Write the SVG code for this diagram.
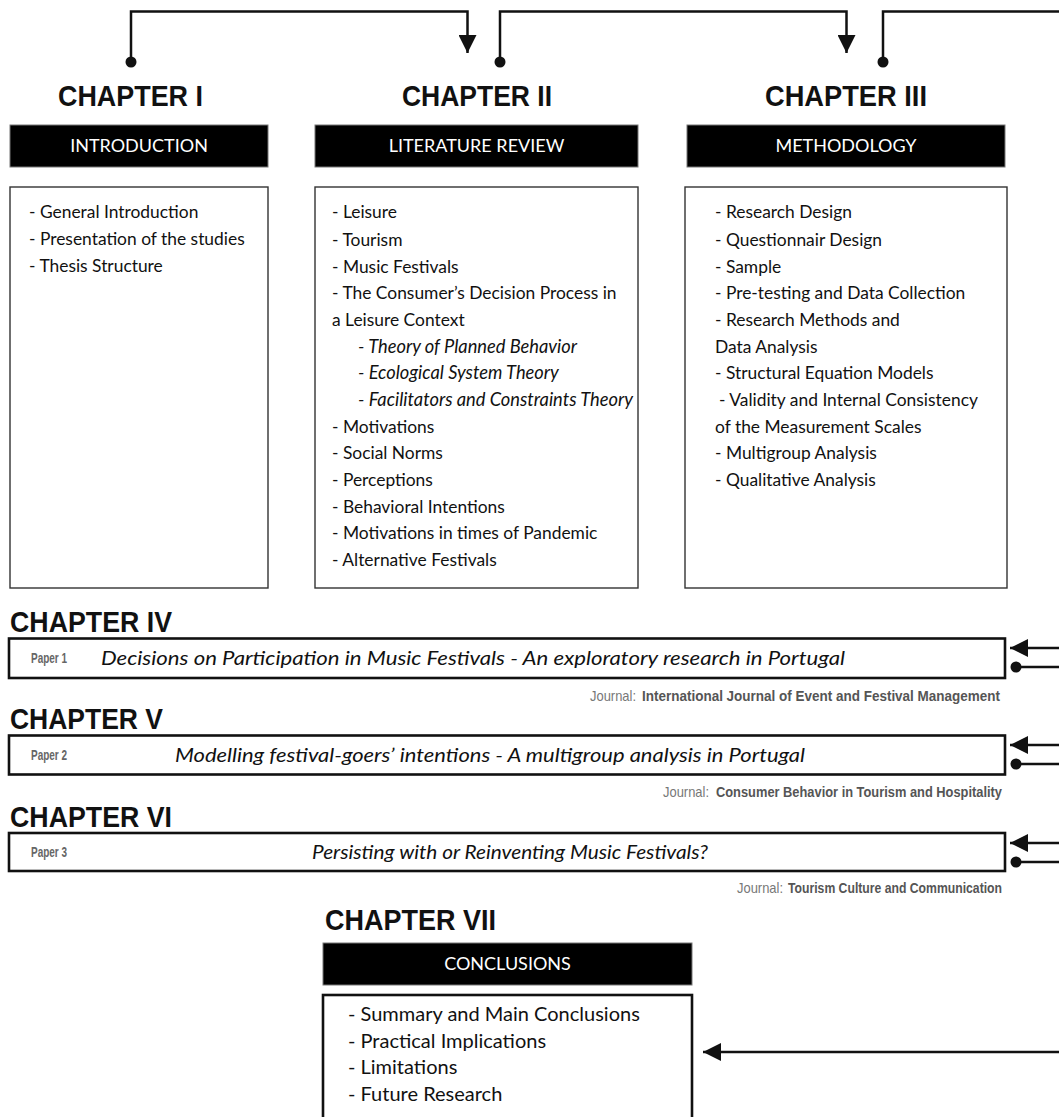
<svg xmlns="http://www.w3.org/2000/svg" width="1059" height="1117" viewBox="0 0 1059 1117">
  <style>
    .chap { font-family: "Liberation Sans", Arial, sans-serif; font-weight: bold; font-size: 29.5px; fill: #111; }
    .bar { fill: #000; stroke: #777; stroke-width: 1; }
    .barText { font-family: Lato, "Open Sans", sans-serif; font-size: 18px; fill: #fff; text-anchor: middle; }
    .box { fill: #fff; stroke: #333; stroke-width: 1.4; }
    .item { font-family: Lato, "Open Sans", sans-serif; font-size: 17.4px; fill: #111; }
    .it { font-style: italic; font-size: 18.3px; }
    .paper { fill: #fff; stroke: #111; stroke-width: 2.6; }
    .plabel { font-family: "Liberation Sans", Arial, sans-serif; font-weight: bold; font-size: 14px; fill: #666; }
    .ptitle { font-family: Lato, "Open Sans", sans-serif; font-style: italic; font-size: 19.5px; fill: #111; text-anchor: middle; }
    .jlabel { font-family: "Liberation Sans", Arial, sans-serif; font-size: 15px; fill: #777; text-anchor: end; }
    .jname { font-family: "Liberation Sans", Arial, sans-serif; font-size: 15px; font-weight: bold; fill: #555; text-anchor: end; }
    .concl { font-family: Lato, "Open Sans", sans-serif; font-size: 20px; fill: #111; }
    .link { fill: none; stroke: #111; stroke-width: 2.5; }
  </style>
  <defs>
    <marker id="arrow" viewBox="0 0 18 18" refX="18" refY="9" markerWidth="18" markerHeight="18" markerUnits="userSpaceOnUse" orient="auto">
      <path d="M0,0 L18,9 L0,18 Z" fill="#111"/>
    </marker>
    <marker id="dot" viewBox="0 0 12 12" refX="6" refY="6" markerWidth="12" markerHeight="12" markerUnits="userSpaceOnUse" orient="auto">
      <circle cx="6" cy="6" r="5.5" fill="#111"/>
    </marker>
  </defs>

  <!-- connectors between chapters -->
  <g id="connectors">
    <path class="link" d="M131,62 V11.5 H467.5 V53" marker-start="url(#dot)" marker-end="url(#arrow)"/>
    <path class="link" d="M500,62 V11.5 H846.5 V53" marker-start="url(#dot)" marker-end="url(#arrow)"/>
    <path class="link" d="M883,62 V11.5 H1059" marker-start="url(#dot)"/>
    <path class="link" d="M1059,648 H1010" marker-end="url(#arrow)"/>
    <path class="link" d="M1059,667 H1016" marker-end="url(#dot)"/>
    <path class="link" d="M1059,745 H1010" marker-end="url(#arrow)"/>
    <path class="link" d="M1059,764 H1016" marker-end="url(#dot)"/>
    <path class="link" d="M1059,843 H1010" marker-end="url(#arrow)"/>
    <path class="link" d="M1059,862 H1016" marker-end="url(#dot)"/>
    <path class="link" d="M1059,1052 H703" marker-end="url(#arrow)"/>
  </g>

  <!-- Chapter I -->
  <g id="chapter1">
    <text class="chap" x="58" y="106" textLength="145" lengthAdjust="spacingAndGlyphs">CHAPTER I</text>
    <rect class="bar" x="10" y="125" width="258" height="42"/>
    <text class="barText" x="139" y="152">INTRODUCTION</text>
    <rect class="box" x="10" y="187" width="258" height="401"/>
    <text class="item" x="29" y="218">- General Introduction</text>
    <text class="item" x="29" y="245">- Presentation of the studies</text>
    <text class="item" x="29" y="272">- Thesis Structure</text>
  </g>

  <!-- Chapter II -->
  <g id="chapter2">
    <text class="chap" x="402" y="106" textLength="150" lengthAdjust="spacingAndGlyphs">CHAPTER II</text>
    <rect class="bar" x="315" y="125" width="323" height="42"/>
    <text class="barText" x="476.5" y="152">LITERATURE REVIEW</text>
    <rect class="box" x="315" y="187" width="323" height="401"/>
    <text class="item" x="332" y="218">- Leisure</text>
    <text class="item" x="332" y="246">- Tourism</text>
    <text class="item" x="332" y="273">- Music Festivals</text>
    <text class="item" x="332" y="299">- The Consumer’s Decision Process in</text>
    <text class="item" x="332" y="326">a Leisure Context</text>
    <text class="item it" x="358" y="353">- Theory of Planned Behavior</text>
    <text class="item it" x="358" y="379">- Ecological System Theory</text>
    <text class="item it" x="358" y="406">- Facilitators and Constraints Theory</text>
    <text class="item" x="332" y="433">- Motivations</text>
    <text class="item" x="332" y="459">- Social Norms</text>
    <text class="item" x="332" y="486">- Perceptions</text>
    <text class="item" x="332" y="513">- Behavioral Intentions</text>
    <text class="item" x="332" y="539">- Motivations in times of Pandemic</text>
    <text class="item" x="332" y="566">- Alternative Festivals</text>
  </g>

  <!-- Chapter III -->
  <g id="chapter3">
    <text class="chap" x="765" y="106" textLength="162" lengthAdjust="spacingAndGlyphs">CHAPTER III</text>
    <rect class="bar" x="687" y="125" width="318" height="42"/>
    <text class="barText" x="846" y="152">METHODOLOGY</text>
    <rect class="box" x="685" y="187" width="322" height="401"/>
    <text class="item" x="715" y="218">- Research Design</text>
    <text class="item" x="715" y="246">- Questionnair Design</text>
    <text class="item" x="715" y="273">- Sample</text>
    <text class="item" x="715" y="299">- Pre-testing and Data Collection</text>
    <text class="item" x="715" y="326">- Research Methods and</text>
    <text class="item" x="715" y="353">Data Analysis</text>
    <text class="item" x="715" y="379">- Structural Equation Models</text>
    <text class="item" x="719" y="406">- Validity and Internal Consistency</text>
    <text class="item" x="715" y="433">of the Measurement Scales</text>
    <text class="item" x="715" y="459">- Multigroup Analysis</text>
    <text class="item" x="715" y="486">- Qualitative Analysis</text>
  </g>

  <!-- Chapter IV -->
  <g id="chapter4">
    <text class="chap" x="10" y="632" textLength="162" lengthAdjust="spacingAndGlyphs">CHAPTER IV</text>
    <rect class="paper" x="9" y="638.5" width="996" height="39.5"/>
    <text class="plabel" x="31" y="663" textLength="36" lengthAdjust="spacingAndGlyphs">Paper 1</text>
    <text class="ptitle" x="473" y="665" textLength="744" lengthAdjust="spacingAndGlyphs">Decisions on Participation in Music Festivals - An exploratory research in Portugal</text>
    <text class="jlabel" x="636" y="701" textLength="46" lengthAdjust="spacingAndGlyphs">Journal:</text>
    <text class="jname" x="1000" y="701" textLength="358" lengthAdjust="spacingAndGlyphs">International Journal of Event and Festival Management</text>
  </g>

  <!-- Chapter V -->
  <g id="chapter5">
    <text class="chap" x="10" y="729" textLength="153" lengthAdjust="spacingAndGlyphs">CHAPTER V</text>
    <rect class="paper" x="9" y="735.5" width="996" height="39"/>
    <text class="plabel" x="31" y="760" textLength="36" lengthAdjust="spacingAndGlyphs">Paper 2</text>
    <text class="ptitle" x="490" y="762" textLength="630" lengthAdjust="spacingAndGlyphs">Modelling festival-goers’ intentions - A multigroup analysis in Portugal</text>
    <text class="jlabel" x="709" y="797" textLength="46" lengthAdjust="spacingAndGlyphs">Journal:</text>
    <text class="jname" x="1002" y="797" textLength="286" lengthAdjust="spacingAndGlyphs">Consumer Behavior in Tourism and Hospitality</text>
  </g>

  <!-- Chapter VI -->
  <g id="chapter6">
    <text class="chap" x="10" y="827" textLength="162" lengthAdjust="spacingAndGlyphs">CHAPTER VI</text>
    <rect class="paper" x="9" y="833" width="996" height="38"/>
    <text class="plabel" x="31" y="857" textLength="36" lengthAdjust="spacingAndGlyphs">Paper 3</text>
    <text class="ptitle" x="510" y="859" textLength="396" lengthAdjust="spacingAndGlyphs">Persisting with or Reinventing Music Festivals?</text>
    <text class="jlabel" x="783" y="893" textLength="46" lengthAdjust="spacingAndGlyphs">Journal:</text>
    <text class="jname" x="1002" y="893" textLength="214" lengthAdjust="spacingAndGlyphs">Tourism Culture and Communication</text>
  </g>

  <!-- Chapter VII -->
  <g id="chapter7">
    <text class="chap" x="325" y="930" textLength="171" lengthAdjust="spacingAndGlyphs">CHAPTER VII</text>
    <rect class="bar" x="323" y="943" width="369" height="42"/>
    <text class="barText" x="507.5" y="970">CONCLUSIONS</text>
    <rect class="box" x="323" y="995" width="369" height="130" style="stroke:#111;stroke-width:2.6"/>
    <text class="concl" x="348" y="1021">- Summary and Main Conclusions</text>
    <text class="concl" x="348" y="1048">- Practical Implications</text>
    <text class="concl" x="348" y="1074">- Limitations</text>
    <text class="concl" x="348" y="1101">- Future Research</text>
  </g>
</svg>
